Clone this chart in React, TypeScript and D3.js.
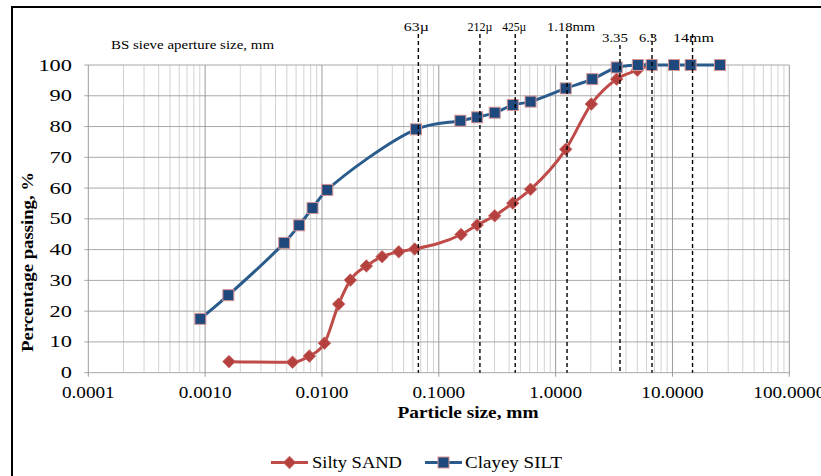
import React from "react";
import * as d3 from "d3";

const sandSize = [0.0016, 0.0056, 0.0078, 0.0105, 0.0139, 0.0175, 0.024, 0.0327, 0.0454, 0.0622, 0.155, 0.213, 0.301, 0.43, 0.61, 1.22, 2.02, 3.33, 5.0, 6.4];
const sandPass = [3.6, 3.4, 5.4, 9.6, 22.3, 30.1, 34.7, 37.7, 39.3, 40.2, 44.9, 48, 51, 55.1, 59.6, 72.6, 87.3, 95.4, 98.3, 100];

const siltSize = [0.00091, 0.00158, 0.00475, 0.00638, 0.0083, 0.0111, 0.0638, 0.153, 0.213, 0.301, 0.43, 0.61, 1.22, 2.06, 3.33, 5.06, 6.64, 10.3, 14.3, 25.5];
const siltPass = [17.5, 25.2, 42.2, 47.9, 53.5, 59.4, 79.1, 81.9, 83, 84.5, 87, 88.1, 92.4, 95.4, 99.2, 100, 100, 100, 100, 100];

const xTickValues = [0.0001, 0.001, 0.01, 0.1, 1, 10, 100];
const xTickLabels = ["0.0001", "0.0010", "0.0100", "0.1000", "1.0000", "10.0000", "100.0000"];
const yTickValues = [0, 10, 20, 30, 40, 50, 60, 70, 80, 90, 100];

const sieveSizes = [0.063, 0.212, 0.425, 1.18, 3.35, 6.3, 14];
const sieveLabels = ["63µ", "212µ", "425µ", "1.18mm", "3.35", "6.3", "14mm"];
const sieveRow = [0, 0, 0, 0, 1, 1, 1];
const sieveLabelWidth = [25, 25, 24, 48, 26, 18, 41];
const sieveLabelShift = [-2, 0, -1, 4, -5, -4, 1];

const seriesNames = ["Silty SAND", "Clayey SILT"];

const W = 821;
const H = 476;
const X0 = 88.3;
const X1 = 789.3;
const Y0 = 372.7;
const Y1 = 65;

const SERIF = "Liberation Serif, Times New Roman, serif";
const RED_LINE = "#BE4B48";
const RED_FILL = "#B5413F";
const BLUE_LINE = "#2B5B8C";
const BLUE_FILL = "#1F497D";
const BLUE_EDGE = "#D99594";

export default function App() {
  const x = d3.scaleLog().domain([0.0001, 100]).range([X0, X1]);
  const y = d3.scaleLinear().domain([0, 100]).range([Y0, Y1]);

  const minor: number[] = [];
  for (let e = -4; e < 2; e++) {
    for (let k = 2; k <= 9; k++) minor.push(k * Math.pow(10, e));
  }

  const blueLine = d3
    .line<[number, number]>()
    .x((d) => x(d[0]))
    .y((d) => y(d[1]))
    .curve(d3.curveCatmullRom.alpha(0.5));
  const redLine = d3
    .line<[number, number]>()
    .x((d) => x(d[0]))
    .y((d) => y(d[1]))
    .curve(d3.curveMonotoneX);

  const sand: [number, number][] = sandSize.map((s, i) => [s, sandPass[i]]);
  const silt: [number, number][] = siltSize.map((s, i) => [s, siltPass[i]]);

  const diamond = (cx: number, cy: number, r: number) =>
    `M${cx},${cy - r}L${cx + r},${cy}L${cx},${cy + r}L${cx - r},${cy}Z`;

  const sieveDx = 3;

  return (
    <svg
      width={W}
      height={H}
      style={{ position: "absolute", left: 0, top: 0, background: "#fff", fontFamily: SERIF }}
    >
      <rect x={0} y={0} width={W} height={H} fill="#fff" />
      {/* frame */}
      <line x1={11} y1={7} x2={W} y2={7} stroke="#000" strokeWidth={2} />
      <line x1={12} y1={6} x2={12} y2={H} stroke="#000" strokeWidth={2} />

      {/* grid */}
      {minor.map((v, i) => (
        <line key={"mn" + i} x1={x(v)} x2={x(v)} y1={Y1} y2={Y0} stroke="#D2D2D2" strokeWidth={1} />
      ))}
      {yTickValues.map((v) => (
        <line key={"h" + v} x1={X0 - 4} x2={X1} y1={y(v)} y2={y(v)} stroke="#A8A8A8" strokeWidth={1} />
      ))}
      {xTickValues.map((v) => (
        <line key={"mj" + v} x1={x(v)} x2={x(v)} y1={Y1} y2={Y0 + 4} stroke="#9A9A9A" strokeWidth={1} />
      ))}

      {/* y tick labels */}
      {yTickValues.map((v) => (
        <text
          key={"yl" + v}
          transform={`translate(72,${y(v) + 5.5}) scale(1.4,1)`}
          textAnchor="end"
          fontSize={16}
          fill="#000"
        >
          {v}
        </text>
      ))}
      {/* x tick labels */}
      {xTickValues.map((v, i) => (
        <text
          key={"xl" + v}
          transform={`translate(${x(v)},${398}) scale(1.2,1)`}
          textAnchor="middle"
          fontSize={16}
          fill="#000"
        >
          {xTickLabels[i]}
        </text>
      ))}

      {/* axis titles */}
      <text x={468} y={418} textAnchor="middle" fontSize={16} fontWeight="bold" textLength={141} lengthAdjust="spacingAndGlyphs">
        Particle size, mm
      </text>
      <text
        transform={`translate(33,262) rotate(-90)`}
        textAnchor="middle"
        fontSize={16}
        fontWeight="bold"
        textLength={180}
        lengthAdjust="spacingAndGlyphs"
      >
        Percentage passing, %
      </text>
      <text x={111} y={49} fontSize={12} textLength={163} lengthAdjust="spacingAndGlyphs">
        BS sieve aperture size, mm
      </text>

      {/* series: Silty SAND */}
      <path d={redLine(sand) || ""} fill="none" stroke={RED_LINE} strokeWidth={3} />
      {sand.map((d, i) => (
        <path key={"sd" + i} d={diamond(x(d[0]), y(d[1]), 6.3)} fill={RED_FILL} stroke="#C86A68" strokeWidth={0.8} />
      ))}

      {/* series: Clayey SILT */}
      <path d={blueLine(silt) || ""} fill="none" stroke={BLUE_LINE} strokeWidth={3} />
      {silt.map((d, i) => (
        <rect
          key={"st" + i}
          x={x(d[0]) - 5.5}
          y={y(d[1]) - 5.5}
          width={11}
          height={11}
          fill={BLUE_FILL}
          stroke={BLUE_EDGE}
          strokeWidth={1}
        />
      ))}

      {/* sieve lines */}
      {sieveSizes.map((s, i) => (
        <g key={"sv" + i}>
          <line
            x1={x(s) + sieveDx}
            x2={x(s) + sieveDx}
            y1={i === 4 ? 45 : 34}
            y2={Y0}
            stroke="#000"
            strokeWidth={1.4}
            strokeDasharray="4,3"
          />
          <text
            x={x(s) + sieveDx + sieveLabelShift[i]}
            y={sieveRow[i] === 0 ? 31 : 42}
            textAnchor="middle"
            fontSize={13}
            textLength={sieveLabelWidth[i]}
            lengthAdjust="spacingAndGlyphs"
          >
            {sieveLabels[i]}
          </text>
        </g>
      ))}

      {/* legend */}
      <g>
        <line x1={271} x2={308} y1={462.5} y2={462.5} stroke={RED_LINE} strokeWidth={3} />
        <path d={diamond(289.5, 462.5, 6.3)} fill={RED_FILL} stroke="#C86A68" strokeWidth={0.8} />
        <text x={312} y={468} fontSize={17} textLength={90} lengthAdjust="spacingAndGlyphs">
          {seriesNames[0]}
        </text>
        <line x1={425} x2={462} y1={462.5} y2={462.5} stroke={BLUE_LINE} strokeWidth={3} />
        <rect x={443.5 - 5.5} y={462.5 - 5.5} width={11} height={11} fill={BLUE_FILL} stroke={BLUE_EDGE} strokeWidth={1} />
        <text x={465} y={468} fontSize={17} textLength={97} lengthAdjust="spacingAndGlyphs">
          {seriesNames[1]}
        </text>
      </g>
    </svg>
  );
}
